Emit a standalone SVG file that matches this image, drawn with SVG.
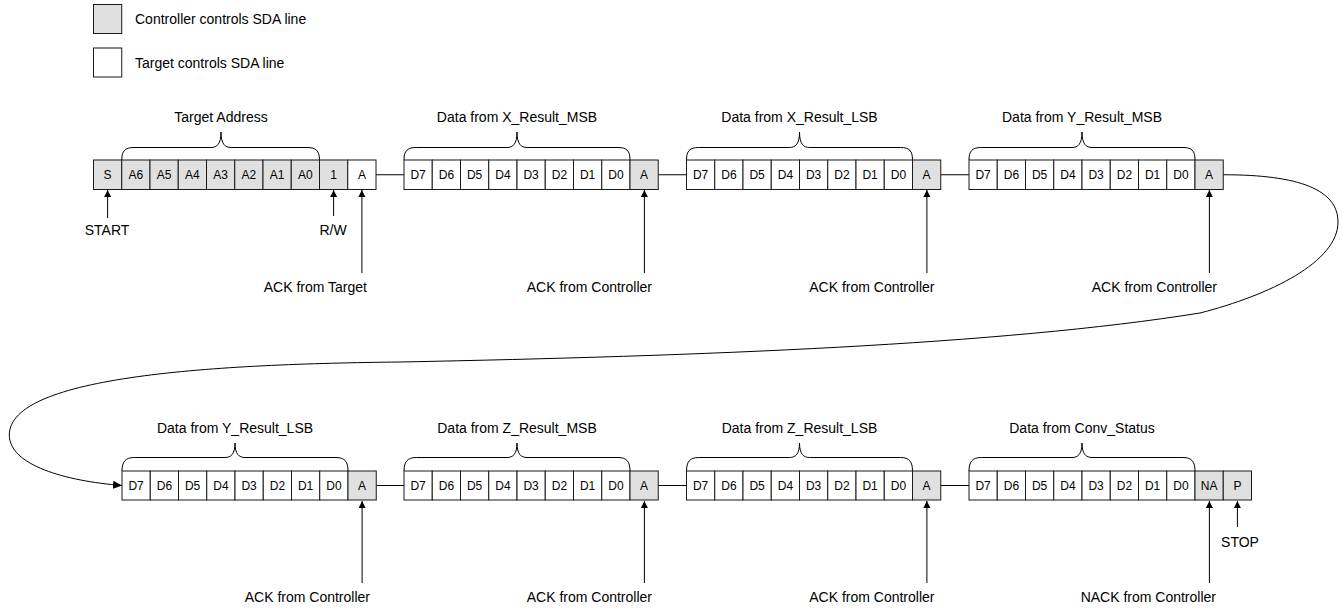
<svg xmlns="http://www.w3.org/2000/svg" width="1343" height="608" viewBox="0 0 1343 608">
<style>
.c{stroke:#1a1a1a;stroke-width:1}
.g{fill:#e0e0e0}
.w{fill:#ffffff}
.t{font-family:"Liberation Sans",Arial,sans-serif;font-size:12px;fill:#000;text-anchor:middle}
.l{font-family:"Liberation Sans",Arial,sans-serif;font-size:14px;fill:#000}
.m{text-anchor:middle}
.e{text-anchor:end}
.br{fill:none;stroke:#000;stroke-width:1}
.ln{fill:none;stroke:#000;stroke-width:1}
.ar{fill:none;stroke:#000;stroke-width:1;marker-end:url(#ah)}
</style>
<defs>
<marker id="ah" markerUnits="userSpaceOnUse" markerWidth="8" markerHeight="8" refX="7" refY="3.5" orient="auto"><path d="M0,0 L7,3.5 L0,7 z" fill="#000"/></marker>
<marker id="ah2" markerUnits="userSpaceOnUse" markerWidth="10" markerHeight="10" refX="9" refY="4" orient="auto"><path d="M0,0 L9,4 L0,8 z" fill="#000"/></marker>
</defs>
<rect width="1343" height="608" fill="#fff"/>
<g id="legend">
<rect class="c g" x="93.5" y="4.5" width="28.25" height="29"/>
<text class="l" x="135" y="23.5">Controller controls SDA line</text>
<rect class="c w" x="93.5" y="48" width="28.25" height="29"/>
<text class="l" x="135" y="67.5">Target controls SDA line</text>
</g>
<g id="connectors">
<line class="ln" x1="376" y1="174.75" x2="404" y2="174.75"/>
<line class="ln" x1="658.25" y1="174.75" x2="686.5" y2="174.75"/>
<line class="ln" x1="940.75" y1="174.75" x2="969" y2="174.75"/>
<line class="ln" x1="376.25" y1="485.5" x2="404" y2="485.5"/>
<line class="ln" x1="658.25" y1="485.5" x2="686.5" y2="485.5"/>
<line class="ln" x1="940.75" y1="485.5" x2="969" y2="485.5"/>
<path d="M1223.25,174.75 C1300,174.75 1338,190 1338,222 C1338,262 1270,295 1200,313 C1000,345 700,356 400,362 C220,364 9.3,375 9.3,435 C9.3,465 65,481 122,485.5" fill="none" stroke="#000" stroke-width="1" marker-end="url(#ah2)"/>
<line class="ar" x1="107.6" y1="218" x2="107.6" y2="190"/>
<line class="ar" x1="333.6" y1="216" x2="333.6" y2="190"/>
<line class="ar" x1="361.9" y1="273" x2="361.9" y2="190"/>
<line class="ar" x1="644.4" y1="273" x2="644.4" y2="190"/>
<line class="ar" x1="926.9" y1="273" x2="926.9" y2="190"/>
<line class="ar" x1="1209.4" y1="273" x2="1209.4" y2="190"/>
<line class="ar" x1="362.1" y1="583" x2="362.1" y2="501"/>
<line class="ar" x1="644.4" y1="583" x2="644.4" y2="501"/>
<line class="ar" x1="926.9" y1="583" x2="926.9" y2="501"/>
<line class="ar" x1="1209.4" y1="583" x2="1209.4" y2="501"/>
<line class="ar" x1="1237.4" y1="527" x2="1237.4" y2="501"/>
</g>
<g id="labels">
<text class="l m" x="107" y="235">START</text>
<text class="l m" x="333" y="235">R/W</text>
<text class="l e" x="367" y="292">ACK from Target</text>
<text class="l e" x="652" y="292">ACK from Controller</text>
<text class="l e" x="934.5" y="292">ACK from Controller</text>
<text class="l e" x="1217" y="292">ACK from Controller</text>
<text class="l e" x="370" y="602">ACK from Controller</text>
<text class="l e" x="652" y="602">ACK from Controller</text>
<text class="l e" x="934.5" y="602">ACK from Controller</text>
<text class="l e" x="1216" y="602">NACK from Controller</text>
<text class="l m" x="1240" y="546.5">STOP</text>
</g>
<g id="addr">
<path class="br" d="M121.75,160 C121.75,151 125,147.5 134,147.5 L211,147.5 C217,147.5 221,144 221,132 C221,144 225,147.5 231,147.5 L307,147.5 C316,147.5 319.5,151 319.5,160"/>
<text class="l m" x="221" y="122">Target Address</text>
<g id="r1S"><rect class="c g" x="93.5" y="160" width="28.25" height="29.5"/><text class="t" x="107.6" y="179">S</text></g>
<g id="r1A6"><rect class="c g" x="121.75" y="160" width="28.25" height="29.5"/><text class="t" x="135.9" y="179">A6</text></g>
<g id="r1A5"><rect class="c g" x="150" y="160" width="28.25" height="29.5"/><text class="t" x="164.1" y="179">A5</text></g>
<g id="r1A4"><rect class="c g" x="178.25" y="160" width="28.25" height="29.5"/><text class="t" x="192.4" y="179">A4</text></g>
<g id="r1A3"><rect class="c g" x="206.5" y="160" width="28.25" height="29.5"/><text class="t" x="220.6" y="179">A3</text></g>
<g id="r1A2"><rect class="c g" x="234.75" y="160" width="28.25" height="29.5"/><text class="t" x="248.9" y="179">A2</text></g>
<g id="r1A1"><rect class="c g" x="263" y="160" width="28.25" height="29.5"/><text class="t" x="277.1" y="179">A1</text></g>
<g id="r1A0"><rect class="c g" x="291.25" y="160" width="28.25" height="29.5"/><text class="t" x="305.4" y="179">A0</text></g>
<g id="r1RW"><rect class="c g" x="319.5" y="160" width="28.25" height="29.5"/><text class="t" x="333.6" y="179">1</text></g>
<g id="r1ACK"><rect class="c w" x="347.75" y="160" width="28.25" height="29.5"/><text class="t" x="361.9" y="179">A</text></g>
</g>
<g id="xmsb" transform="translate(404,0)">
<path class="br" d="M0,160 C0,151 3.25,147.5 12.25,147.5 L103,147.5 C109,147.5 113,144 113,132 C113,144 117,147.5 123,147.5 L214,147.5 C223,147.5 226,151 226,160"/>
<text class="l m" x="113" y="122">Data from X_Result_MSB</text>
<g id="xmsb-cells">
<rect class="c w" x="0" y="160" width="28.25" height="29.5"/><text class="t" x="14.1" y="179">D7</text>
<rect class="c w" x="28.25" y="160" width="28.25" height="29.5"/><text class="t" x="42.4" y="179">D6</text>
<rect class="c w" x="56.5" y="160" width="28.25" height="29.5"/><text class="t" x="70.6" y="179">D5</text>
<rect class="c w" x="84.75" y="160" width="28.25" height="29.5"/><text class="t" x="98.9" y="179">D4</text>
<rect class="c w" x="113" y="160" width="28.25" height="29.5"/><text class="t" x="127.1" y="179">D3</text>
<rect class="c w" x="141.25" y="160" width="28.25" height="29.5"/><text class="t" x="155.4" y="179">D2</text>
<rect class="c w" x="169.5" y="160" width="28.25" height="29.5"/><text class="t" x="183.6" y="179">D1</text>
<rect class="c w" x="197.75" y="160" width="28.25" height="29.5"/><text class="t" x="211.9" y="179">D0</text>
<rect class="c g" x="226" y="160" width="28.25" height="29.5"/><text class="t" x="240.1" y="179">A</text>
</g>
</g>
<g id="xlsb" transform="translate(686.5,0)">
<path class="br" d="M0,160 C0,151 3.25,147.5 12.25,147.5 L103,147.5 C109,147.5 113,144 113,132 C113,144 117,147.5 123,147.5 L214,147.5 C223,147.5 226,151 226,160"/>
<text class="l m" x="113" y="122">Data from X_Result_LSB</text>
<g id="xlsb-cells">
<rect class="c w" x="0" y="160" width="28.25" height="29.5"/><text class="t" x="14.1" y="179">D7</text>
<rect class="c w" x="28.25" y="160" width="28.25" height="29.5"/><text class="t" x="42.4" y="179">D6</text>
<rect class="c w" x="56.5" y="160" width="28.25" height="29.5"/><text class="t" x="70.6" y="179">D5</text>
<rect class="c w" x="84.75" y="160" width="28.25" height="29.5"/><text class="t" x="98.9" y="179">D4</text>
<rect class="c w" x="113" y="160" width="28.25" height="29.5"/><text class="t" x="127.1" y="179">D3</text>
<rect class="c w" x="141.25" y="160" width="28.25" height="29.5"/><text class="t" x="155.4" y="179">D2</text>
<rect class="c w" x="169.5" y="160" width="28.25" height="29.5"/><text class="t" x="183.6" y="179">D1</text>
<rect class="c w" x="197.75" y="160" width="28.25" height="29.5"/><text class="t" x="211.9" y="179">D0</text>
<rect class="c g" x="226" y="160" width="28.25" height="29.5"/><text class="t" x="240.1" y="179">A</text>
</g>
</g>
<g id="ymsb" transform="translate(969,0)">
<path class="br" d="M0,160 C0,151 3.25,147.5 12.25,147.5 L103,147.5 C109,147.5 113,144 113,132 C113,144 117,147.5 123,147.5 L214,147.5 C223,147.5 226,151 226,160"/>
<text class="l m" x="113" y="122">Data from Y_Result_MSB</text>
<g id="ymsb-cells">
<rect class="c w" x="0" y="160" width="28.25" height="29.5"/><text class="t" x="14.1" y="179">D7</text>
<rect class="c w" x="28.25" y="160" width="28.25" height="29.5"/><text class="t" x="42.4" y="179">D6</text>
<rect class="c w" x="56.5" y="160" width="28.25" height="29.5"/><text class="t" x="70.6" y="179">D5</text>
<rect class="c w" x="84.75" y="160" width="28.25" height="29.5"/><text class="t" x="98.9" y="179">D4</text>
<rect class="c w" x="113" y="160" width="28.25" height="29.5"/><text class="t" x="127.1" y="179">D3</text>
<rect class="c w" x="141.25" y="160" width="28.25" height="29.5"/><text class="t" x="155.4" y="179">D2</text>
<rect class="c w" x="169.5" y="160" width="28.25" height="29.5"/><text class="t" x="183.6" y="179">D1</text>
<rect class="c w" x="197.75" y="160" width="28.25" height="29.5"/><text class="t" x="211.9" y="179">D0</text>
<rect class="c g" x="226" y="160" width="28.25" height="29.5"/><text class="t" x="240.1" y="179">A</text>
</g>
</g>
<g id="ylsb" transform="translate(122,311)">
<path class="br" d="M0,160 C0,151 3.25,146.5 12.25,146.5 L103,146.5 C109,146.5 113,143 113,132 C113,143 117,146.5 123,146.5 L214,146.5 C223,146.5 226,151 226,160"/>
<text class="l m" x="113" y="122">Data from Y_Result_LSB</text>
<g id="ylsb-cells">
<rect class="c w" x="0" y="160" width="28.25" height="29"/><text class="t" x="14.1" y="178.7">D7</text>
<rect class="c w" x="28.25" y="160" width="28.25" height="29"/><text class="t" x="42.4" y="178.7">D6</text>
<rect class="c w" x="56.5" y="160" width="28.25" height="29"/><text class="t" x="70.6" y="178.7">D5</text>
<rect class="c w" x="84.75" y="160" width="28.25" height="29"/><text class="t" x="98.9" y="178.7">D4</text>
<rect class="c w" x="113" y="160" width="28.25" height="29"/><text class="t" x="127.1" y="178.7">D3</text>
<rect class="c w" x="141.25" y="160" width="28.25" height="29"/><text class="t" x="155.4" y="178.7">D2</text>
<rect class="c w" x="169.5" y="160" width="28.25" height="29"/><text class="t" x="183.6" y="178.7">D1</text>
<rect class="c w" x="197.75" y="160" width="28.25" height="29"/><text class="t" x="211.9" y="178.7">D0</text>
<rect class="c g" x="226" y="160" width="28.25" height="29"/><text class="t" x="240.1" y="178.7">A</text>
</g>
</g>
<g id="zmsb" transform="translate(404,311)">
<path class="br" d="M0,160 C0,151 3.25,146.5 12.25,146.5 L103,146.5 C109,146.5 113,143 113,132 C113,143 117,146.5 123,146.5 L214,146.5 C223,146.5 226,151 226,160"/>
<text class="l m" x="113" y="122">Data from Z_Result_MSB</text>
<g id="zmsb-cells">
<rect class="c w" x="0" y="160" width="28.25" height="29"/><text class="t" x="14.1" y="178.7">D7</text>
<rect class="c w" x="28.25" y="160" width="28.25" height="29"/><text class="t" x="42.4" y="178.7">D6</text>
<rect class="c w" x="56.5" y="160" width="28.25" height="29"/><text class="t" x="70.6" y="178.7">D5</text>
<rect class="c w" x="84.75" y="160" width="28.25" height="29"/><text class="t" x="98.9" y="178.7">D4</text>
<rect class="c w" x="113" y="160" width="28.25" height="29"/><text class="t" x="127.1" y="178.7">D3</text>
<rect class="c w" x="141.25" y="160" width="28.25" height="29"/><text class="t" x="155.4" y="178.7">D2</text>
<rect class="c w" x="169.5" y="160" width="28.25" height="29"/><text class="t" x="183.6" y="178.7">D1</text>
<rect class="c w" x="197.75" y="160" width="28.25" height="29"/><text class="t" x="211.9" y="178.7">D0</text>
<rect class="c g" x="226" y="160" width="28.25" height="29"/><text class="t" x="240.1" y="178.7">A</text>
</g>
</g>
<g id="zlsb" transform="translate(686.5,311)">
<path class="br" d="M0,160 C0,151 3.25,146.5 12.25,146.5 L103,146.5 C109,146.5 113,143 113,132 C113,143 117,146.5 123,146.5 L214,146.5 C223,146.5 226,151 226,160"/>
<text class="l m" x="113" y="122">Data from Z_Result_LSB</text>
<g id="zlsb-cells">
<rect class="c w" x="0" y="160" width="28.25" height="29"/><text class="t" x="14.1" y="178.7">D7</text>
<rect class="c w" x="28.25" y="160" width="28.25" height="29"/><text class="t" x="42.4" y="178.7">D6</text>
<rect class="c w" x="56.5" y="160" width="28.25" height="29"/><text class="t" x="70.6" y="178.7">D5</text>
<rect class="c w" x="84.75" y="160" width="28.25" height="29"/><text class="t" x="98.9" y="178.7">D4</text>
<rect class="c w" x="113" y="160" width="28.25" height="29"/><text class="t" x="127.1" y="178.7">D3</text>
<rect class="c w" x="141.25" y="160" width="28.25" height="29"/><text class="t" x="155.4" y="178.7">D2</text>
<rect class="c w" x="169.5" y="160" width="28.25" height="29"/><text class="t" x="183.6" y="178.7">D1</text>
<rect class="c w" x="197.75" y="160" width="28.25" height="29"/><text class="t" x="211.9" y="178.7">D0</text>
<rect class="c g" x="226" y="160" width="28.25" height="29"/><text class="t" x="240.1" y="178.7">A</text>
</g>
</g>
<g id="conv" transform="translate(969,311)">
<path class="br" d="M0,160 C0,151 3.25,146.5 12.25,146.5 L103,146.5 C109,146.5 113,143 113,132 C113,143 117,146.5 123,146.5 L214,146.5 C223,146.5 226,151 226,160"/>
<text class="l m" x="113" y="122">Data from Conv_Status</text>
<g id="conv-cells">
<rect class="c w" x="0" y="160" width="28.25" height="29"/><text class="t" x="14.1" y="178.7">D7</text>
<rect class="c w" x="28.25" y="160" width="28.25" height="29"/><text class="t" x="42.4" y="178.7">D6</text>
<rect class="c w" x="56.5" y="160" width="28.25" height="29"/><text class="t" x="70.6" y="178.7">D5</text>
<rect class="c w" x="84.75" y="160" width="28.25" height="29"/><text class="t" x="98.9" y="178.7">D4</text>
<rect class="c w" x="113" y="160" width="28.25" height="29"/><text class="t" x="127.1" y="178.7">D3</text>
<rect class="c w" x="141.25" y="160" width="28.25" height="29"/><text class="t" x="155.4" y="178.7">D2</text>
<rect class="c w" x="169.5" y="160" width="28.25" height="29"/><text class="t" x="183.6" y="178.7">D1</text>
<rect class="c w" x="197.75" y="160" width="28.25" height="29"/><text class="t" x="211.9" y="178.7">D0</text>
<rect class="c g" x="226" y="160" width="28.25" height="29"/><text class="t" x="240.1" y="178.7">NA</text>
<rect class="c g" x="254.25" y="160" width="28.25" height="29"/><text class="t" x="268.4" y="178.7">P</text>
</g>
</g>
</svg>
